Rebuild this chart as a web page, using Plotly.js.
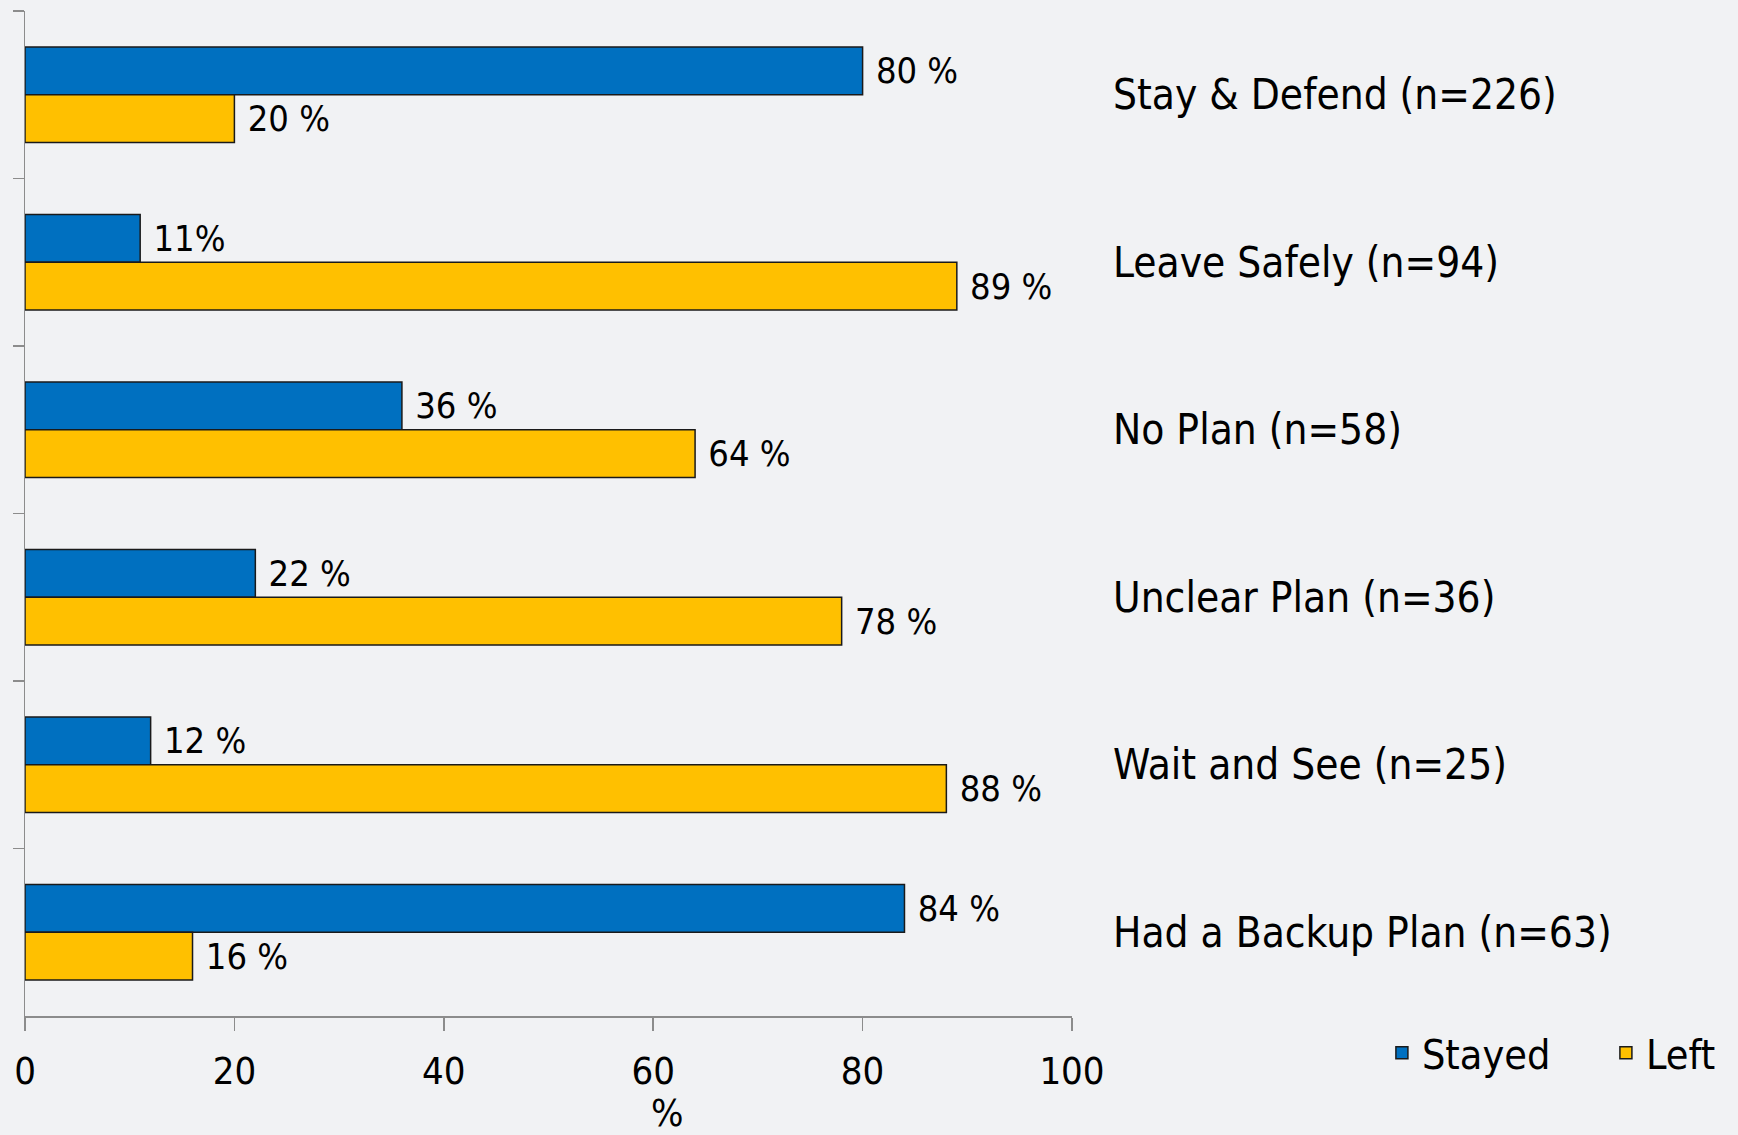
<!DOCTYPE html>
<html>
<head>
<meta charset="utf-8">
<script src="https://cdn.plot.ly/plotly-3.0.1.min.js"></script>
<style>
  html, body { margin: 0; padding: 0; background: #f1f2f4; }
  #chart { width: 1738px; height: 1135px; }
</style>
</head>
<body>
<div id="chart"></div>
<script>
// ---- data ----
const categories = [
  "Stay & Defend (n=226)",
  "Leave Safely (n=94)",
  "No Plan (n=58)",
  "Unclear Plan (n=36)",
  "Wait and See (n=25)",
  "Had a Backup Plan (n=63)"
];
const seriesNames = ["Stayed", "Left"];
const stayed = [80, 11, 36, 22, 12, 84];
const left   = [20, 89, 64, 78, 88, 16];
const stayedLabels = ["80 %", "11%", "36 %", "22 %", "12 %", "84 %"];
const leftLabels   = ["20 %", "89 %", "64 %", "78 %", "88 %", "16 %"];
const xTicks = [0, 20, 40, 60, 80, 100];
const xTitle = "%";

// ---- styling ----
const FONT = "DejaVu Sans Condensed, DejaVu Sans, sans-serif";
const BG = "#f1f2f4";
const AXIS = "#8c8c8c";

function barTrace(name, values, labels, color) {
  return {
    type: "bar",
    orientation: "h",
    name: name,
    y: categories,
    x: values,
    text: labels,
    texttemplate: "\u00a0%{text}",
    textposition: "outside",
    constraintext: "none",
    cliponaxis: false,
    textfont: { family: FONT, size: 36, color: "#000" },
    marker: { color: color, line: { color: "#1a1a1a", width: 1.5 } },
    hoverinfo: "x+y+name"
  };
}

const data = [
  barTrace(seriesNames[0], stayed, stayedLabels, "#0070c0"),
  barTrace(seriesNames[1], left, leftLabels, "#ffc000")
];

const annotations = categories.map(c => ({
  xref: "paper", yref: "y",
  x: 1.037, y: c,
  xanchor: "left", yanchor: "middle",
  text: c, showarrow: false,
  font: { family: FONT, size: 42, color: "#000" }
}));
annotations.push({
  xref: "paper", yref: "paper",
  x: 0.614, y: -0.097,
  xanchor: "center", yanchor: "middle",
  text: xTitle, showarrow: false,
  font: { family: FONT, size: 38, color: "#000" }
});

const layout = {
  width: 1738, height: 1135,
  paper_bgcolor: BG, plot_bgcolor: BG,
  margin: { l: 24.5, r: 666, t: 11, b: 119, pad: 0, autoexpand: false },
  barmode: "group",
  bargap: 0.43,
  bargroupgap: 0,
  showlegend: true,
  legend: {
    orientation: "h",
    x: 1.296, xanchor: "left",
    y: -0.037, yanchor: "middle",
    bgcolor: "rgba(0,0,0,0)",
    font: { family: FONT, size: 41, color: "#000" },
    entrywidth: 179, entrywidthmode: "pixels",
    traceorder: "normal"
  },
  xaxis: {
    range: [0, 100],
    tickmode: "array", tickvals: xTicks, ticktext: xTicks.map(String),
    ticks: "outside", ticklen: 13, tickwidth: 1.5, tickcolor: AXIS,
    ticklabelstandoff: 8,
    showline: true, linecolor: AXIS, linewidth: 1.5,
    showgrid: false, zeroline: false,
    tickfont: { family: FONT, size: 38, color: "#000" },
    automargin: false, fixedrange: true
  },
  yaxis: {
    type: "category",
    autorange: "reversed",
    tickson: "boundaries",
    ticks: "outside", ticklen: 11, tickwidth: 1.5, tickcolor: AXIS,
    showline: true, linecolor: AXIS, linewidth: 1.5,
    showgrid: false, zeroline: false,
    showticklabels: false,
    automargin: false, fixedrange: true
  },
  annotations: annotations
};

Plotly.newPlot("chart", data, layout, { displayModeBar: false, staticPlot: true });
</script>
</body>
</html>
